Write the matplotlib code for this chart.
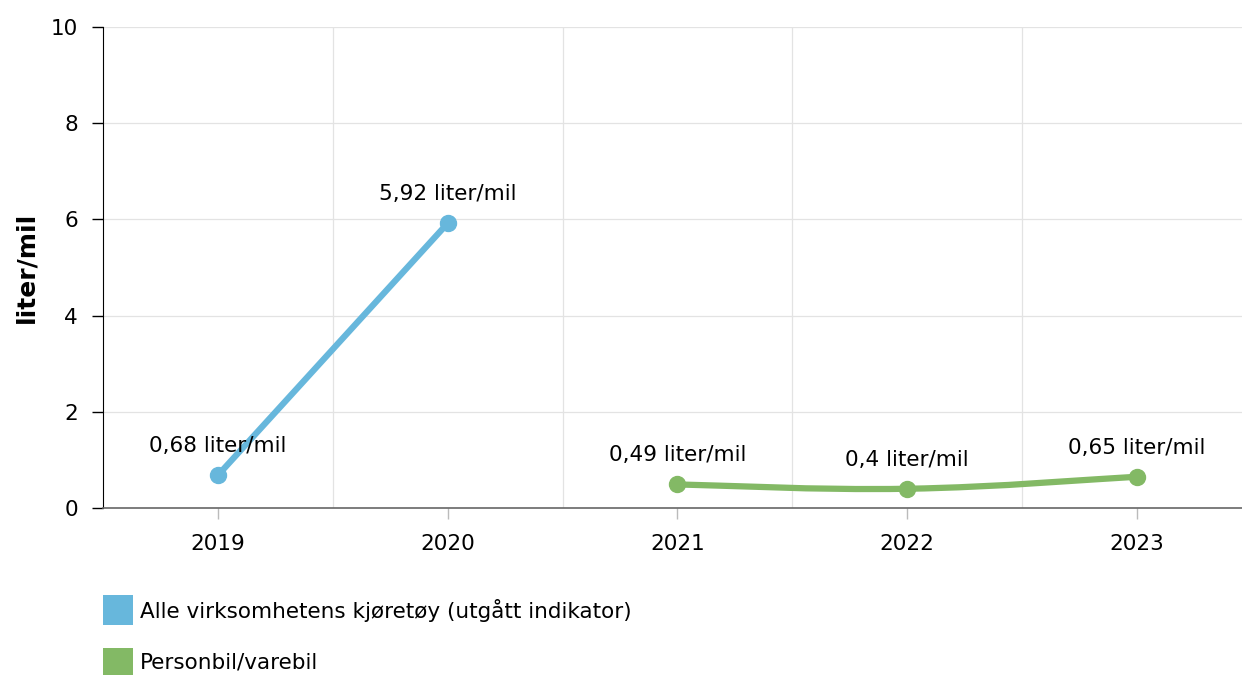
import matplotlib.pyplot as plt
from matplotlib.path import Path
from matplotlib.patches import PathPatch, Rectangle
import numpy as np

years = ["2019", "2020", "2021", "2022", "2023"]
alle_x = [0, 1]
alle_vals = [0.68, 5.92]
alle_labels = ["0,68 liter/mil", "5,92 liter/mil"]
person_x = [2, 3, 4]
person_vals = [0.49, 0.4, 0.65]
person_labels = ["0,49 liter/mil", "0,4 liter/mil", "0,65 liter/mil"]
legend_names = ["Alle virksomhetens kjøretøy (utgått indikator)", "Personbil/varebil"]

blue = "#67b7dc"
green = "#83b965"
fs = 15.5

plt.rcParams['font.family'] = ['DejaVu Sans']

fig = plt.figure(figsize=(12.42, 6.75), dpi=100)
ax = fig.add_axes([103 / 1242, 1 - 508 / 675, 1 - 103 / 1242, (508 - 27) / 675])
ax.set_xlim(-0.5, 4.457)
ax.set_ylim(0, 10)

# grid: horizontal at y ticks, vertical at category boundaries
for y in [2, 4, 6, 8, 10]:
    ax.axhline(y, color="#e3e3e3", lw=0.9, zorder=0)
for b in [0.5, 1.5, 2.5, 3.5]:
    ax.axvline(b, color="#e3e3e3", lw=0.9, zorder=0)

ax.set_yticks([0, 2, 4, 6, 8, 10])
ax.set_xticks(range(len(years)))
ax.set_xticklabels(years)
ax.tick_params(axis="y", length=8, width=1, color="black", labelsize=fs, pad=10)
ax.tick_params(axis="x", length=8, width=1, color="#bbbbbb", labelsize=fs, pad=11)

for s in ["top", "right"]:
    ax.spines[s].set_visible(False)
ax.spines["left"].set_color("black")
ax.spines["bottom"].set_color("#666666")
ax.spines["bottom"].set_linewidth(1.2)

ax.set_ylabel("liter/mil", fontsize=18, fontweight="bold", labelpad=9)

# blue line (straight)
ax.plot(alle_x, alle_vals, color=blue, lw=4.5, solid_capstyle="round", zorder=3)
ax.plot(alle_x, alle_vals, "o", color=blue, ms=11.5, zorder=4)

# green line (smooth spline through points)
px = np.array(person_x, dtype=float)
py = np.array(person_vals, dtype=float)
verts = [(px[0], py[0])]
codes = [Path.MOVETO]
sm = 1.5
for i in range(len(px) - 1):
    p0 = (px[i - 1], py[i - 1]) if i > 0 else (px[i], py[i])
    p1 = (px[i], py[i])
    p2 = (px[i + 1], py[i + 1])
    p3 = (px[i + 2], py[i + 2]) if i + 2 < len(px) else p2
    c1 = (p1[0] + (p2[0] - p0[0]) / (2 * (sm + 1)), p1[1] + (p2[1] - p0[1]) / (2 * (sm + 1)))
    c2 = (p2[0] - (p3[0] - p1[0]) / (2 * (sm + 1)), p2[1] - (p3[1] - p1[1]) / (2 * (sm + 1)))
    verts += [c1, c2, p2]
    codes += [Path.CURVE4] * 3
ax.add_patch(PathPatch(Path(verts, codes), fill=False, edgecolor=green, lw=4.5,
                       capstyle="round", zorder=3))
ax.plot(person_x, person_vals, "o", color=green, ms=11.5, zorder=4)

for x, v, t in zip(alle_x + person_x, alle_vals + person_vals, alle_labels + person_labels):
    ax.annotate(t, (x, v), xytext=(0, 21), textcoords="offset points",
                ha="center", va="center", fontsize=fs, zorder=5)

# legend
for i, (name, col) in enumerate(zip(legend_names, [blue, green])):
    ytop = 595 + i * 53
    fig.patches.append(Rectangle((103 / 1242, 1 - (ytop + 30) / 675), 30 / 1242, 30 / 675,
                                 transform=fig.transFigure, facecolor=col, edgecolor="none"))
    fig.text(140 / 1242, 1 - (ytop + 15) / 675, name, fontsize=fs, va="center", ha="left")

fig.savefig("out.png", dpi=100)
